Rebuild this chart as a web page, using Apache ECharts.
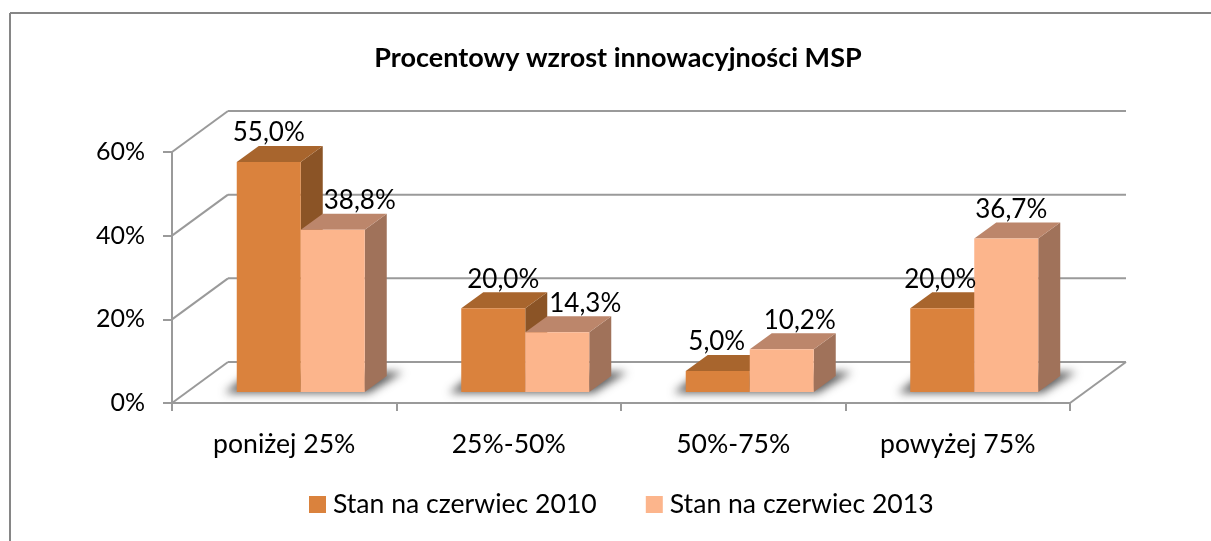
<!DOCTYPE html>
<html>
<head>
<meta charset="utf-8">
<title>Procentowy wzrost innowacyjności MSP</title>
<script src="https://cdn.jsdelivr.net/npm/echarts@6/dist/echarts.min.js"></script>
<style>
  html, body { margin: 0; padding: 0; background: #fff; }
  #chart { width: 1211px; height: 541px; }
</style>
</head>
<body>
<div id="chart"></div>
<script>
const categories = ["poniżej 25%", "25%-50%", "50%-75%", "powyżej 75%"];
const values2010 = [55.0, 20.0, 5.0, 20.0];
const values2013 = [38.8, 14.3, 10.2, 36.7];
const yTicks = [0, 20, 40, 60];

// the labels were moved by hand in the original, so they sit off the bar centre
const labelShift2010 = [0, 10, -1, -2];
const labelShift2013 = [27, 28, 18, 5];

const FONT = "Lato";
const GREY = "#9a9a9a";
const WALL_DX = 56, WALL_DY = 41;   // depth of the chart box
const BAR_DX = 22, BAR_DY = 16;     // depth of one bar
const BAR_W = 64;
const PLANE_DX = 16.5, PLANE_DY = 11; // bars stand a little inside the floor
const OFFSCREEN = 3000;               // the shadow's caster is kept off the canvas

const fmt = (v) => v.toFixed(1).replace(".", ",") + "%";

function poly(points, fill, z2) {
  return { type: "polygon", shape: { points }, style: { fill }, z2 };
}

// one 3D bar: front, top and side faces
function barRenderer(side, colors, shifts) {
  return (params, api) => {
    const i = api.value(0), v = api.value(1);
    const top = api.coord([i, v]);
    const base = api.coord([i, 0]);
    const x0 = top[0] + PLANE_DX + (side < 0 ? -BAR_W : 0);
    const x1 = x0 + BAR_W;
    const yt = top[1] - PLANE_DY;
    const yb = base[1] - PLANE_DY;
    return {
      type: "group",
      children: [
        poly([[x1, yt], [x1 + BAR_DX, yt - BAR_DY], [x1 + BAR_DX, yb - BAR_DY], [x1, yb]], colors.side, 3),
        poly([[x0, yt], [x0 + BAR_DX, yt - BAR_DY], [x1 + BAR_DX, yt - BAR_DY], [x1, yt]], colors.top, 3),
        { type: "rect", shape: { x: x0, y: yt, width: BAR_W, height: yb - yt }, style: { fill: colors.front }, z2: 4 },
        {
          type: "text",
          z2: 20,
          style: {
            x: (x0 + x1) / 2 + shifts[i],
            y: yt - 29,
            text: fmt(v),
            fill: "#000",
            font: "26px " + FONT,
            align: "center",
            verticalAlign: "middle",
          },
        },
      ],
    };
  };
}

// back wall, left wall and floor lines, one set per value tick
function renderWall(params, api) {
  const c = params.coordSys;
  const y = api.coord([0, api.value(0)])[1];
  const lineStyle = { stroke: GREY, lineWidth: 2, fill: null };
  const children = [
    { type: "line", shape: { x1: c.x, y1: y, x2: c.x + WALL_DX, y2: y - WALL_DY }, style: lineStyle },
    { type: "line", shape: { x1: c.x + WALL_DX, y1: y - WALL_DY, x2: c.x + c.width + WALL_DX, y2: y - WALL_DY }, style: lineStyle },
  ];
  if (api.value(0) === 0) {
    children.push({ type: "line", shape: { x1: c.x + c.width, y1: y, x2: c.x + c.width + WALL_DX, y2: y - WALL_DY }, style: lineStyle });
  }
  return { type: "group", children };
}

// soft shadow on the floor behind each pair of bars
function renderShadow(params, api) {
  const p = api.coord([api.value(0), 0]);
  const x0 = p[0] + PLANE_DX - BAR_W - OFFSCREEN, x1 = p[0] + PLANE_DX + BAR_W - OFFSCREEN;
  const yb = p[1] - PLANE_DY;
  return {
    type: "polygon",
    shape: { points: [[x0 - 12, yb + 1], [x1 + 4, yb + 1], [x1 + 38, yb - 20], [x0 + 14, yb - 20]] },
    style: { fill: "#000", shadowBlur: 8, shadowOffsetX: OFFSCREEN, shadowColor: "rgba(85,85,85,0.95)" },
  };
}

const chart = echarts.init(document.getElementById("chart"), null, { renderer: "canvas" });
chart.setOption({
  animation: false,
  backgroundColor: "#fff",
  textStyle: { fontFamily: FONT },
  title: {
    text: "Procentowy wzrost innowacyjności MSP",
    left: 613,
    top: 40,
    textAlign: "center",
    textStyle: { fontFamily: FONT, fontSize: 27, fontWeight: "bold", color: "#000" },
  },
  graphic: [
    { type: "line", shape: { x1: 10, y1: 13, x2: 1211, y2: 13 }, style: { stroke: "#868686", lineWidth: 2 } },
    { type: "line", shape: { x1: 10, y1: 13, x2: 10, y2: 541 }, style: { stroke: "#868686", lineWidth: 2 } },
  ],
  legend: {
    data: ["Stan na czerwiec 2010", "Stan na czerwiec 2013"],
    left: 309,
    top: 491,
    padding: 0,
    icon: "rect",
    itemWidth: 17,
    itemHeight: 17,
    itemGap: 49,
    textStyle: { fontFamily: FONT, fontSize: 26.6, color: "#000", padding: [0, 0, 0, 2] },
  },
  grid: { left: 172, top: 152, width: 898, height: 251 },
  xAxis: {
    type: "category",
    data: categories,
    axisLine: { lineStyle: { color: GREY, width: 2 } },
    axisTick: { show: true, alignWithLabel: false, length: 8, lineStyle: { color: GREY, width: 2 } },
    axisLabel: { fontFamily: FONT, fontSize: 26.6, color: "#000", margin: 28 },
  },
  yAxis: {
    type: "value",
    min: 0,
    max: 60,
    interval: 20,
    axisLine: { show: true, lineStyle: { color: GREY, width: 2 } },
    axisTick: { show: true, length: 9, lineStyle: { color: GREY, width: 2 } },
    axisLabel: { fontFamily: FONT, fontSize: 25, color: "#000", margin: 27, formatter: "{value}%" },
    splitLine: { show: false },
  },
  series: [
    {
      type: "custom",
      renderItem: renderWall,
      data: yTicks.map((t) => [t]),
      encode: { y: 0 },
      silent: true,
      clip: false,
      z: 1,
    },
    {
      type: "custom",
      renderItem: renderShadow,
      data: categories.map((c, i) => [i]),
      encode: { x: 0 },
      silent: true,
      clip: false,
      z: 2,
    },
    {
      name: "Stan na czerwiec 2010",
      type: "custom",
      renderItem: barRenderer(-1, { front: "#da823d", top: "#a8652d", side: "#8b5426" }, labelShift2010),
      itemStyle: { color: "#da823d" },
      data: values2010.map((v, i) => [i, v]),
      encode: { x: 0, y: 1 },
      clip: false,
      z: 3,
    },
    {
      name: "Stan na czerwiec 2013",
      type: "custom",
      renderItem: barRenderer(1, { front: "#fcb58c", top: "#bc866b", side: "#a0725a" }, labelShift2013),
      itemStyle: { color: "#fcb58c" },
      data: values2013.map((v, i) => [i, v]),
      encode: { x: 0, y: 1 },
      clip: false,
      z: 3,
    },
  ],
});
</script>
</body>
</html>
